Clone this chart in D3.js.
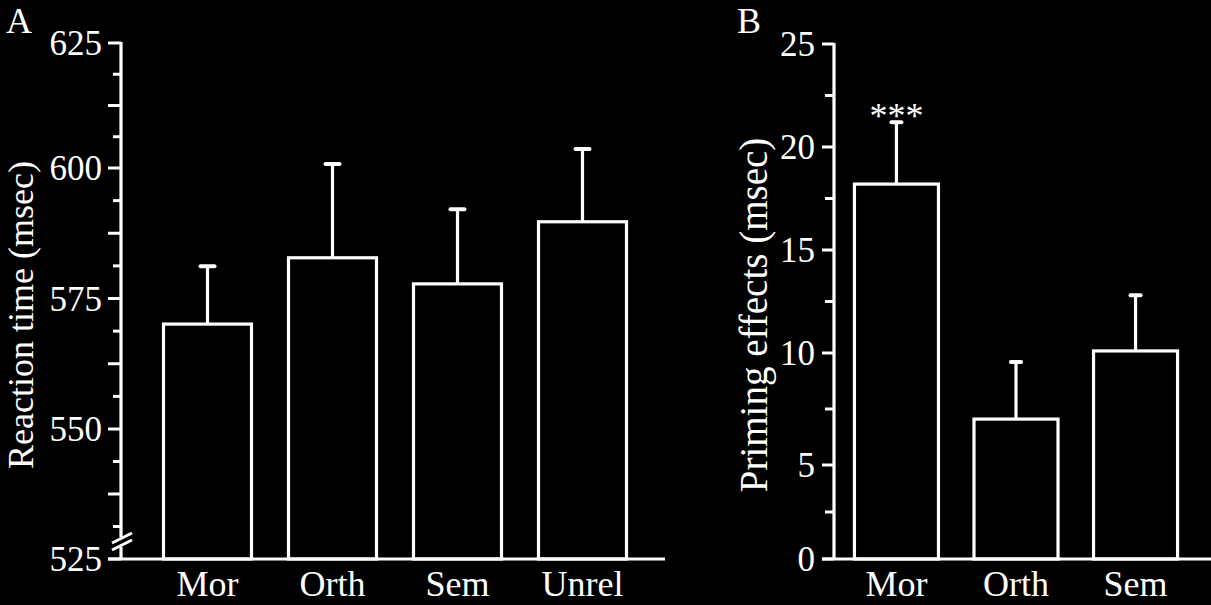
<!DOCTYPE html>
<html>
<head>
<meta charset="utf-8">
<script src="https://cdn.jsdelivr.net/npm/d3@7"></script>
<style>
  html, body { margin: 0; padding: 0; background: #000; }
  svg { display: block; }
  text { font-family: "Liberation Serif", "Times New Roman", serif; fill: #fff; }
</style>
</head>
<body>
<svg id="chart" width="1211" height="605"></svg>
<script>
// ---- Data ----
const categoriesA = ["Mor", "Orth", "Sem", "Unrel"];
const meansA = [570.1, 582.8, 577.8, 589.7];
const errorsA = [11.1, 18.0, 14.3, 14.1];
const ticksA = [525, 550, 575, 600, 625];

const categoriesB = ["Mor", "Orth", "Sem"];
const meansB = [18.2, 7.05, 10.1];
const errorsB = [3.0, 2.55, 2.7];
const ticksB = [0, 5, 10, 15, 20, 25];
const sigB = ["***", "", ""];

const panelLabels = ["A", "B"];
const titleA = "Reaction time (msec)";
const titleB = "Priming effects (msec)";

// ---- Drawing ----
const svg = d3.select("#chart");
svg.append("rect").attr("width", 1211).attr("height", 605).attr("fill", "#000");
const W = "#fff";
const SW = 3.2;

// ---------- Panel A ----------
const yA = d3.scaleLinear().domain([525, 550, 600, 625]).range([559, 429, 168, 43]);
const xA = d3.scaleBand().domain(categoriesA).range([137, 653]).paddingInner(0.272).paddingOuter(0.2);
const axA = 121;

const gA = svg.append("g");
gA.selectAll("rect.bar").data(categoriesA).join("rect")
  .attr("x", d => xA(d) + 1.5).attr("width", xA.bandwidth() - 3)
  .attr("y", (d, i) => yA(meansA[i])).attr("height", (d, i) => yA(525) - yA(meansA[i]))
  .attr("fill", "none").attr("stroke", W).attr("stroke-width", SW);
gA.selectAll("line.err").data(categoriesA).join("line")
  .attr("x1", d => xA(d) + xA.bandwidth() / 2).attr("x2", d => xA(d) + xA.bandwidth() / 2)
  .attr("y1", (d, i) => yA(meansA[i])).attr("y2", (d, i) => yA(meansA[i] + errorsA[i]))
  .attr("stroke", W).attr("stroke-width", SW);
gA.selectAll("line.cap").data(categoriesA).join("line")
  .attr("x1", d => xA(d) + xA.bandwidth() / 2 - 7).attr("x2", d => xA(d) + xA.bandwidth() / 2 + 7)
  .attr("y1", (d, i) => yA(meansA[i] + errorsA[i])).attr("y2", (d, i) => yA(meansA[i] + errorsA[i]))
  .attr("stroke", W).attr("stroke-width", 4).attr("stroke-linecap", "round");

gA.append("line").attr("x1", 108).attr("x2", 665).attr("y1", yA(525)).attr("y2", yA(525))
  .attr("stroke", W).attr("stroke-width", SW);
gA.append("line").attr("x1", axA).attr("x2", axA).attr("y1", yA(625) - 1).attr("y2", 537)
  .attr("stroke", W).attr("stroke-width", SW);
gA.append("line").attr("x1", axA).attr("x2", axA).attr("y1", 547).attr("y2", yA(525))
  .attr("stroke", W).attr("stroke-width", SW);
gA.append("line").attr("x1", 112).attr("y1", 543).attr("x2", 132).attr("y2", 533)
  .attr("stroke", W).attr("stroke-width", 3);
gA.append("line").attr("x1", 112).attr("y1", 550).attr("x2", 132).attr("y2", 540)
  .attr("stroke", W).attr("stroke-width", 3);
const minorA = d3.range(525, 625.01, 6.25);
gA.selectAll("line.tick").data(minorA).join("line")
  .attr("x1", d => (Math.abs((d - 525) % 12.5) < 0.01 ? 108 : 113)).attr("x2", axA)
  .attr("y1", d => yA(d)).attr("y2", d => yA(d))
  .attr("stroke", W).attr("stroke-width", 3);
gA.selectAll("text.tl").data(ticksA).join("text")
  .attr("x", 102).attr("y", d => yA(d) + 12)
  .attr("text-anchor", "end").attr("font-size", 35)
  .text(d => d);
gA.selectAll("text.cat").data(categoriesA).join("text")
  .attr("x", d => xA(d) + xA.bandwidth() / 2).attr("y", 596)
  .attr("text-anchor", "middle").attr("font-size", 36)
  .text(d => d);
gA.append("text").attr("transform", "translate(33,315) rotate(-90)")
  .attr("text-anchor", "middle").attr("font-size", 36).text(titleA);
gA.append("text").attr("x", 6).attr("y", 33).attr("font-size", 36).text(panelLabels[0]);

// ---------- Panel B ----------
const yB = d3.scaleLinear().domain([0, 5, 10, 25]).range([559, 465, 353, 44]);
const xB = d3.scaleBand().domain(categoriesB).range([835, 1197]).paddingInner(0.272).paddingOuter(0.15);
const axB = 834;
const gB = svg.append("g");
gB.selectAll("rect.bar").data(categoriesB).join("rect")
  .attr("x", d => xB(d) + 1.5).attr("width", xB.bandwidth() - 3)
  .attr("y", (d, i) => yB(meansB[i])).attr("height", (d, i) => yB(0) - yB(meansB[i]))
  .attr("fill", "none").attr("stroke", W).attr("stroke-width", SW);
gB.selectAll("line.err").data(categoriesB).join("line")
  .attr("x1", d => xB(d) + xB.bandwidth() / 2).attr("x2", d => xB(d) + xB.bandwidth() / 2)
  .attr("y1", (d, i) => yB(meansB[i])).attr("y2", (d, i) => yB(meansB[i] + errorsB[i]))
  .attr("stroke", W).attr("stroke-width", SW);
gB.selectAll("line.cap").data(categoriesB).join("line")
  .attr("x1", d => xB(d) + xB.bandwidth() / 2 - 5).attr("x2", d => xB(d) + xB.bandwidth() / 2 + 5)
  .attr("y1", (d, i) => yB(meansB[i] + errorsB[i])).attr("y2", (d, i) => yB(meansB[i] + errorsB[i]))
  .attr("stroke", W).attr("stroke-width", 4).attr("stroke-linecap", "round");
gB.selectAll("text.sig").data(categoriesB).join("text")
  .attr("x", d => xB(d) + xB.bandwidth() / 2).attr("y", (d, i) => yB(meansB[i] + errorsB[i]) + 6)
  .attr("text-anchor", "middle").attr("font-size", 36)
  .text((d, i) => sigB[i]);

gB.append("line").attr("x1", 822).attr("x2", 1211).attr("y1", yB(0)).attr("y2", yB(0))
  .attr("stroke", W).attr("stroke-width", SW);
gB.append("line").attr("x1", axB).attr("x2", axB).attr("y1", yB(25) - 1).attr("y2", yB(0))
  .attr("stroke", W).attr("stroke-width", SW);
const minorB = d3.range(0, 25.01, 2.5);
gB.selectAll("line.tick").data(minorB).join("line")
  .attr("x1", d => (Math.abs(d % 5) < 0.01 ? 822 : 825)).attr("x2", axB)
  .attr("y1", d => yB(d)).attr("y2", d => yB(d))
  .attr("stroke", W).attr("stroke-width", 3);
gB.selectAll("text.tl").data(ticksB).join("text")
  .attr("x", 815).attr("y", d => yB(d) + 12)
  .attr("text-anchor", "end").attr("font-size", 35)
  .text(d => d);
gB.selectAll("text.cat").data(categoriesB).join("text")
  .attr("x", d => xB(d) + xB.bandwidth() / 2).attr("y", 596)
  .attr("text-anchor", "middle").attr("font-size", 36)
  .text(d => d);
gB.append("text").attr("transform", "translate(767,315) rotate(-90)")
  .attr("text-anchor", "middle").attr("font-size", 39).text(titleB);
gB.append("text").attr("x", 737).attr("y", 33).attr("font-size", 36).text(panelLabels[1]);
</script>
</body>
</html>
